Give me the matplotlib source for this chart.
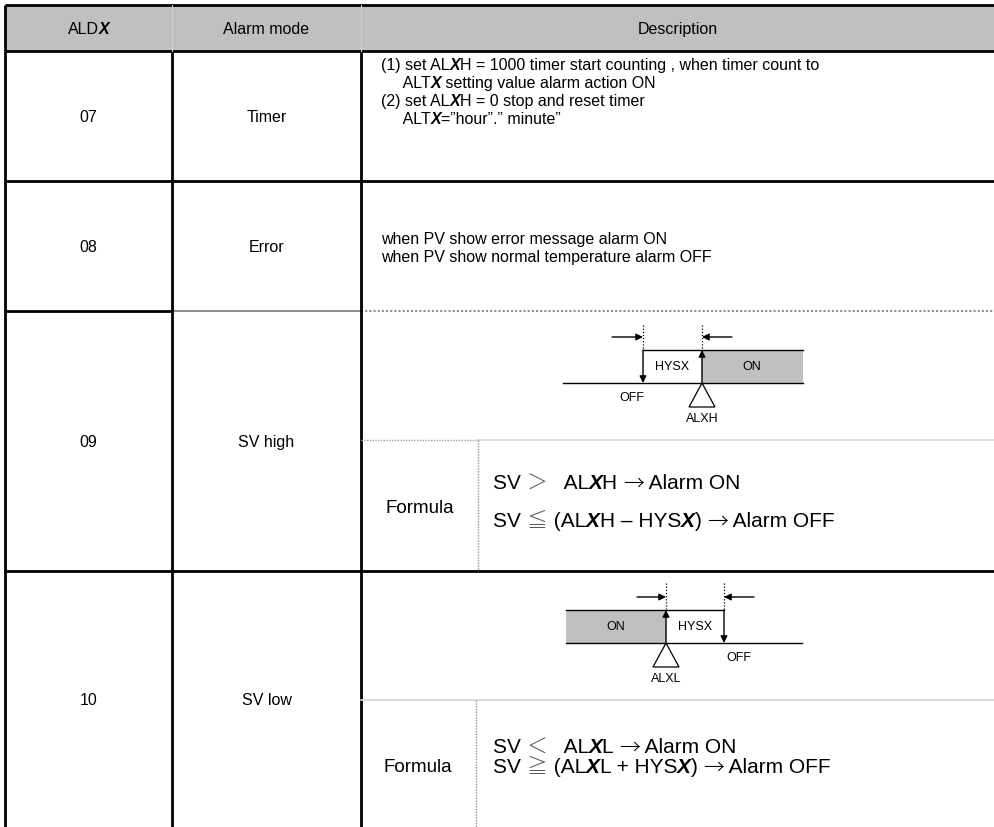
import re
import matplotlib
matplotlib.use('Agg')
import matplotlib.pyplot as plt
from matplotlib.patches import Rectangle, Polygon

plt.rcParams['font.family'] = ['Liberation Sans', 'Noto Sans CJK JP', 'DejaVu Sans']

# table content: "*X*" = bold italic piece, "^s^" = grey CJK sign, "~s~" = black CJK sign
headers = ['ALD*X*', 'Alarm mode', 'Description']
codes = ['07', '08', '09', '10']
modes = ['Timer', 'Error', 'SV high', 'SV low']
desc_07 = ['(1) set AL*X*H = 1000 timer start counting , when timer count to',
           '     ALT*X* setting value alarm action ON',
           '(2) set AL*X*H = 0 stop and reset timer',
           '     ALT*X*=\u201dhour\u201d.\u201d minute\u201d']
desc_08 = ['when PV show error message alarm ON',
           'when PV show normal temperature alarm OFF']
formula_09 = ['SV ^\uff1e^  \u2009AL*X*H ~\u2192~ Alarm ON',
              'SV ^\u2266^ (AL*X*H \u2013 HYS*X*) ~\u2192~ Alarm OFF']
formula_10 = ['SV ^\uff1c^  \u2009AL*X*L ~\u2192~ Alarm ON',
              'SV ^\u2267^ (AL*X*L + HYS*X*) ~\u2192~ Alarm OFF']
formula_label = 'Formula'
diag_labels_09 = ['HYSX', 'ON', 'OFF', 'ALXH']
diag_labels_10 = ['ON', 'HYSX', 'OFF', 'ALXL']

W, H = 995, 827
fig = plt.figure(figsize=(W / 100, H / 100), dpi=100)
ax = fig.add_axes([0, 0, 1, 1])
ax.set_xlim(0, W)
ax.set_ylim(H, 0)
ax.axis('off')
r = fig.canvas.get_renderer()

col_x = [5, 172, 361]
row_y = [5, 51, 181, 311, 571]
cjk = ['Noto Sans CJK JP', 'DejaVu Sans']


def seg_width(s, size, style):
    a = ax.text(0, 0, s + '|', fontsize=size, **style)
    b = ax.text(0, 0, '|', fontsize=size, **style)
    w = a.get_window_extent(r).width - b.get_window_extent(r).width
    a.remove()
    b.remove()
    return w


def pieces(s):
    out = []
    for p in re.split(r'(\*[^*]*\*|\^[^^]*\^|~[^~]*~)', s):
        if not p:
            continue
        if p[0] == '*':
            out.append((p[1:-1], dict(fontweight='bold', fontstyle='italic')))
        elif p[0] == '^':
            out.append((p[1:-1], dict(family=cjk, fontweight='light', color='#555555')))
        elif p[0] == '~':
            out.append((p[1:-1], dict(family=cjk, fontweight='light', color='black')))
        else:
            out.append((p, {}))
    return out


def rich(x, y, s, size=11.5, ha='left'):
    # y is the visual centre of capitals
    base = y + 0.716 * size * 100 / 72 / 2
    parts = pieces(s)
    widths = [seg_width(p, size, st) for p, st in parts]
    if ha == 'center':
        x -= sum(widths) / 2
    for (p, st), w in zip(parts, widths):
        ax.text(x, base, p, fontsize=size, va='baseline', ha='left', **st)
        x += w


# header
ax.add_patch(Rectangle((5, 5), W - 5, 46, facecolor='#c0c0c0', edgecolor='none'))
centers = [(col_x[0] + col_x[1]) / 2, (col_x[1] + col_x[2]) / 2, (col_x[2] + W) / 2]
for cx, h in zip(centers, headers):
    rich(cx, 28, h, ha='center')

# first two columns
for i, (c, m) in enumerate(zip(codes, modes)):
    y0 = row_y[i + 1]
    y1 = row_y[i + 2] if i + 2 < len(row_y) else H
    rich(centers[0], (y0 + y1) / 2, c, ha='center')
    rich(centers[1], (y0 + y1) / 2, m, ha='center')

# descriptions
for k, line in enumerate(desc_07):
    rich(381, 64 + k * 18, line)
for k, line in enumerate(desc_08):
    rich(381, 238 + k * 18, line)

rich(420, 506, formula_label, ha='center', size=13.5)
for k, line in enumerate(formula_09):
    rich(493, 482 + k * 38, line, size=15)
rich(418, 765, formula_label, ha='center', size=13.5)
for k, line in enumerate(formula_10):
    rich(493, 746 + k * 20, line, size=15)

# grid lines
blk = dict(color='black', lw=2, solid_capstyle='butt')
for y in [5, 51, 181, 571]:
    ax.plot([5, W], [y, y], **blk)
ax.plot([5, 172], [311, 311], **blk)
ax.plot([172, 361], [311, 311], color='#909090', lw=1.5)
ax.plot([361, W], [311, 311], color='#909090', lw=1.5, ls=(0, (1, 1)))
for x in col_x:
    ax.plot([x, x], [51, H], **blk)
ax.plot([5, 5], [5, 51], **blk)
for x in col_x[1:]:
    ax.plot([x, x], [5, 51], color='#cfcfcf', lw=0.8)
ax.plot([478, W], [440, 440], color='#d6d6d6', lw=1.2)
ax.plot([361, 478], [440, 440], color='#a0a0a0', lw=1, ls=(0, (1, 1)))
ax.plot([478, 478], [440, 571], color='#909090', lw=1, ls=(0, (1, 1)))
ax.plot([361, W], [700, 700], color='#d6d6d6', lw=1.2)
ax.plot([476, 476], [700, H], color='#909090', lw=1, ls=(0, (1, 1)))

arr = dict(arrowstyle='-|>', color='black', lw=1, mutation_scale=10, shrinkA=0, shrinkB=0)


def arrow(x0, y0, x1, y1):
    ax.annotate('', xy=(x1, y1), xytext=(x0, y0), arrowprops=arr)


def dotted(x, y0, y1):
    ax.plot([x, x], [y0, y1], color='black', lw=0.9, ls=(0, (1, 1.5)))


def triangle(x, y):
    ax.add_patch(Polygon([(x, y), (x - 13, y + 24), (x + 13, y + 24)],
                         closed=True, facecolor='white', edgecolor='black', lw=0.9))


# diagram for SV high
ax.add_patch(Rectangle((702, 350), 101, 33, facecolor='#c0c0c0', edgecolor='none'))
ax.plot([563, 803], [383, 383], color='black', lw=1)
ax.plot([643, 803], [350, 350], color='black', lw=1)
arrow(643, 350, 643, 383)
arrow(702, 383, 702, 350)
dotted(643, 325, 350)
dotted(702, 325, 350)
arrow(612, 337, 643, 337)
arrow(732, 337, 702, 337)
triangle(702, 383)
ax.text(672, 367, diag_labels_09[0], fontsize=9, ha='center', va='center')
ax.text(752, 367, diag_labels_09[1], fontsize=9, ha='center', va='center')
ax.text(632, 398, diag_labels_09[2], fontsize=9, ha='center', va='center')
ax.text(702, 419, diag_labels_09[3], fontsize=9, ha='center', va='center')

# diagram for SV low
ax.add_patch(Rectangle((566, 610), 100, 33, facecolor='#c0c0c0', edgecolor='none'))
ax.plot([566, 802], [643, 643], color='black', lw=1)
ax.plot([566, 724], [610, 610], color='black', lw=1)
arrow(666, 643, 666, 610)
arrow(724, 610, 724, 643)
dotted(666, 583, 610)
dotted(724, 583, 610)
arrow(637, 597, 666, 597)
arrow(754, 597, 724, 597)
triangle(666, 643)
ax.text(616, 627, diag_labels_10[0], fontsize=9, ha='center', va='center')
ax.text(695, 627, diag_labels_10[1], fontsize=9, ha='center', va='center')
ax.text(739, 658, diag_labels_10[2], fontsize=9, ha='center', va='center')
ax.text(666, 679, diag_labels_10[3], fontsize=9, ha='center', va='center')

fig.savefig('out.png', dpi=100)
